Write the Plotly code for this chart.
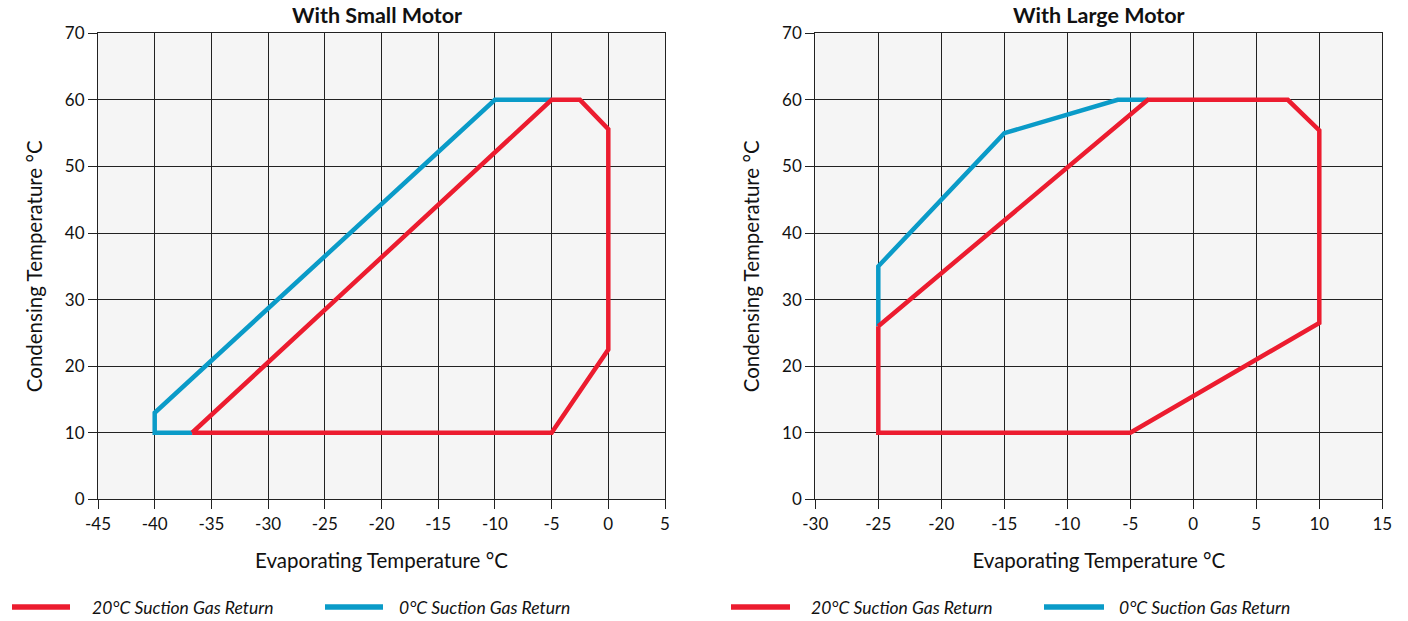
import plotly.graph_objects as go

# ---- data ----
small_red_x = [-36.7, -5, -2.5, 0, 0, -5, -36.7]
small_red_y = [10, 60, 60, 55.6, 22.5, 10, 10]
small_blue_x = [-36.7, -40, -40, -10, -5]
small_blue_y = [10, 10, 13, 60, 60]

large_red_x = [-25, -3.6, 7.5, 10, 10, -5, -25, -25]
large_red_y = [26, 60, 60, 55.4, 26.5, 10, 10, 26]
large_blue_x = [-25, -25, -15, -6, -3.6]
large_blue_y = [26, 35, 55, 60, 60]

titles = ["With Small Motor", "With Large Motor"]
series_names = ["20°C Suction Gas Return", "0°C Suction Gas Return"]
x_title = "Evaporating Temperature °C"
y_title = "Condensing Temperature °C"
y_ticks = [0, 10, 20, 30, 40, 50, 60, 70]
small_x_ticks = [-45, -40, -35, -30, -25, -20, -15, -10, -5, 0, 5]
large_x_ticks = [-30, -25, -20, -15, -10, -5, 0, 5, 10, 15]

RED = "#EC1C2F"
BLUE = "#0A9BC8"
FONT = "Lato"

fig = go.Figure()

def add(x, y, color, xa, ya):
    fig.add_trace(go.Scatter(x=x, y=y, mode="lines", xaxis=xa, yaxis=ya,
                             line=dict(color=color, width=4.5), showlegend=False,
                             hoverinfo="skip"))

add(small_blue_x, small_blue_y, BLUE, "x", "y")
add(small_red_x, small_red_y, RED, "x", "y")
add(large_blue_x, large_blue_y, BLUE, "x2", "y2")
add(large_red_x, large_red_y, RED, "x2", "y2")

H = 621
W = 1408
ytop = 1 - 33.3 / H
ybot = 1 - 499.3 / H

axis_common = dict(showgrid=True, gridcolor="#222222", gridwidth=1.2,
                   showline=True, linecolor="#222222", linewidth=1.2, mirror=True,
                   ticks="outside", tickcolor="#222222", tickwidth=1.2, zeroline=False,
                   automargin=False,
                   tickfont=dict(family=FONT, size=17, color="#111"),
                   title_font=dict(family=FONT, size=20.5, color="#111"))

def lbl(v):
    return [str(t) for t in v]

fig.update_layout(
    width=W, height=H,
    margin=dict(l=0, r=0, t=0, b=0),
    paper_bgcolor="white",
    plot_bgcolor="#F5F5F5",
    xaxis=dict(domain=[98 / W, 665 / W], range=[-45, 5], tickvals=small_x_ticks,
               ticktext=lbl(small_x_ticks), ticklen=9, anchor="y",
               title=dict(text=x_title, standoff=20), **axis_common),
    yaxis=dict(domain=[ybot, ytop], range=[0, 70], tickvals=y_ticks, ticktext=lbl(y_ticks),
               ticklen=9, anchor="x", title=dict(text=y_title, standoff=16), **axis_common),
    xaxis2=dict(domain=[815.3 / W, 1382.3 / W], range=[-30, 15], tickvals=large_x_ticks,
                ticktext=lbl(large_x_ticks), ticklen=9, anchor="y2",
                title=dict(text=x_title, standoff=20), **axis_common),
    yaxis2=dict(domain=[ybot, ytop], range=[0, 70], tickvals=y_ticks, ticktext=lbl(y_ticks),
                ticklen=9, anchor="x2", title=dict(text=y_title, standoff=16), **axis_common),
)

# titles
for t, cx in zip(titles, [377 / W, 1099 / W]):
    fig.add_annotation(text="<b>" + t + "</b>", x=cx, y=1 - 15 / H, xref="paper", yref="paper",
                       showarrow=False, font=dict(family=FONT, size=21.5, color="#111"),
                       xanchor="center", yanchor="middle")

# legends (line samples + italic labels)
leg_y = 1 - 607 / H
legend_items = [
    (12, 70, 90, RED, series_names[0]),
    (325, 383, 397, BLUE, series_names[1]),
    (731, 790, 809, RED, series_names[0]),
    (1044, 1104, 1117, BLUE, series_names[1]),
]
for x0, x1, tx, col, name in legend_items:
    fig.add_shape(type="line", xref="paper", yref="paper", x0=x0 / W, x1=x1 / W,
                  y0=leg_y, y1=leg_y, line=dict(color=col, width=5.5))
    fig.add_annotation(text="<i>" + name + "</i>", x=tx / W, y=leg_y, xref="paper", yref="paper",
                       showarrow=False, xanchor="left", yanchor="middle",
                       font=dict(family=FONT, size=17.5, color="#111"))

fig.write_html("out.html", config={"displayModeBar": False},
               post_script="document.body.style.margin='0';document.body.style.overflow='hidden';")
